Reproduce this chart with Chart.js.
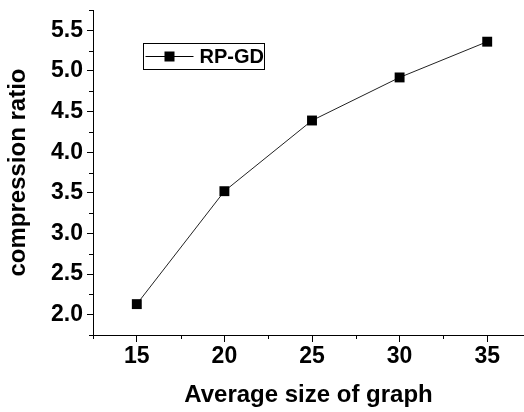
<!DOCTYPE html>
<html>
<head>
<meta charset="utf-8">
<script src="https://cdn.jsdelivr.net/npm/chart.js@4"></script>
<style>
  html, body { margin: 0; padding: 0; background: #fff; }
  #chart { display: block; }
</style>
</head>
<body>
<canvas id="chart" width="524" height="412"></canvas>
<script>
const graphSizes = [15, 20, 25, 30, 35];
const compressionRatios = [2.13, 3.52, 4.39, 4.92, 5.36];
const seriesLabel = 'RP-GD';
const xTitle = 'Average size of graph';
const yTitle = 'compression ratio';

const FONT = "'Liberation Sans', Arial, sans-serif";

const isMultiple = (v, step) => Math.abs(v / step - Math.round(v / step)) < 1e-6;

// minor ticks drawn short, majors come from the grid tick
const minorTicks = {
    id: 'minorTicks',
    afterDraw(chart) {
        const ctx = chart.ctx;
        const xs = chart.scales.x, ys = chart.scales.y;
        ctx.save();
        ctx.strokeStyle = '#000';
        ctx.lineWidth = 1;
        ctx.beginPath();
        xs.ticks.forEach(t => {
            if (!isMultiple(t.value, 5)) {
                const px = Math.round(xs.getPixelForValue(t.value)) + 0.5;
                ctx.moveTo(px, xs.top);
                ctx.lineTo(px, xs.top + 4);
            }
        });
        ys.ticks.forEach(t => {
            if (!isMultiple(t.value, 0.5)) {
                const py = Math.round(ys.getPixelForValue(t.value)) + 0.5;
                ctx.moveTo(ys.right, py);
                ctx.lineTo(ys.right - 4, py);
            }
        });
        ctx.stroke();
        ctx.restore();
    }
};

// legend box inside the plot: line - square - line, then label
const boxLegend = {
    id: 'boxLegend',
    afterDraw(chart) {
        const ctx = chart.ctx;
        const area = chart.chartArea;
        const x0 = Math.round(area.left) + 50.5, y0 = Math.round(area.top) + 33.5;
        const w = 121, h = 26;
        ctx.save();
        ctx.strokeStyle = '#000';
        ctx.lineWidth = 1;
        ctx.strokeRect(x0, y0, w, h);
        const cy = y0 + h / 2;
        ctx.beginPath();
        ctx.moveTo(x0 + 2, cy);
        ctx.lineTo(x0 + 50, cy);
        ctx.stroke();
        ctx.fillStyle = '#000';
        ctx.fillRect(x0 + 21, cy - 5, 10, 10);
        ctx.font = 'bold 20px ' + FONT;
        ctx.textBaseline = 'middle';
        ctx.fillText(chart.data.datasets[0].label, x0 + 56, cy + 1);
        ctx.restore();
    }
};

new Chart(document.getElementById('chart'), {
    type: 'scatter',
    data: {
        datasets: [{
            label: seriesLabel,
            data: graphSizes.map((s, i) => ({ x: s, y: compressionRatios[i] })),
            showLine: true,
            borderColor: '#222',
            borderWidth: 1,
            pointStyle: 'rect',
            pointRadius: 7,
            pointBackgroundColor: '#000',
            pointBorderColor: '#000',
            pointBorderWidth: 0
        }]
    },
    options: {
        responsive: false,
        animation: false,
        layout: { autoPadding: false, padding: { left: 0, right: 0, top: 10, bottom: 0 } },
        plugins: {
            legend: { display: false },
            tooltip: { enabled: false }
        },
        scales: {
            x: {
                type: 'linear',
                min: 12.5,
                max: 37.1,
                afterBuildTicks(scale) {
                    const ticks = [];
                    for (let v = 12.5; v <= scale.max + 1e-9; v += 2.5) ticks.push({ value: v });
                    scale.ticks = ticks;
                },
                afterFit(scale) {
                    scale.height = 77;
                    scale.paddingLeft = 0;
                    scale.paddingRight = 0;
                },
                border: { display: true, color: '#000', width: 1 },
                grid: {
                    drawOnChartArea: false,
                    tickLength: 7,
                    tickColor: ctx => (ctx.tick && isMultiple(ctx.tick.value, 5)) ? '#000' : 'rgba(0,0,0,0)'
                },
                ticks: {
                    autoSkip: false,
                    maxRotation: 0,
                    padding: 1,
                    color: '#000',
                    font: { family: FONT, size: 23, weight: 'bold' },
                    callback: v => (isMultiple(v, 5) ? String(Math.round(v)) : '')
                },
                title: {
                    display: true,
                    text: xTitle,
                    color: '#000',
                    padding: { top: 12, bottom: 2 },
                    font: { family: FONT, size: 24, weight: 'bold' }
                }
            },
            y: {
                min: 1.75,
                max: 5.75,
                afterFit(scale) {
                    scale.width = 93;
                    scale.paddingTop = 0;
                    scale.paddingBottom = 0;
                },
                border: { display: true, color: '#000', width: 1 },
                grid: {
                    drawOnChartArea: false,
                    tickLength: 6,
                    tickColor: ctx => (ctx.tick && isMultiple(ctx.tick.value, 0.5)) ? '#000' : 'rgba(0,0,0,0)'
                },
                ticks: {
                    stepSize: 0.25,
                    autoSkip: false,
                    padding: 4,
                    color: '#000',
                    font: { family: FONT, size: 23, weight: 'bold' },
                    callback: v => (isMultiple(v, 0.5) ? v.toFixed(1) : '')
                },
                title: {
                    display: true,
                    text: yTitle,
                    color: '#000',
                    padding: { top: 4, bottom: 8 },
                    font: { family: FONT, size: 24, weight: 'bold' }
                }
            }
        }
    },
    plugins: [minorTicks, boxLegend]
});
</script>
</body>
</html>
